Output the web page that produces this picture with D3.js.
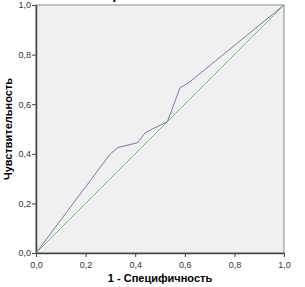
<!DOCTYPE html>
<html>
<head>
<meta charset="utf-8">
<script src="https://cdn.jsdelivr.net/npm/d3@7"></script>
<style>
  body { margin: 0; background: #fff; }
  text { font-family: "Liberation Sans", Arial, sans-serif; }
</style>
</head>
<body>
<div id="chart"></div>
<script>
// ROC curve points (1 - specificity, sensitivity)
var fpr = [0, 0.30, 0.33, 0.41, 0.44, 0.53, 0.56, 0.58, 0.62, 1];
var tpr = [0, 0.40, 0.425, 0.445, 0.485, 0.53, 0.61, 0.665, 0.69, 1];
var refLine = [0, 1];
var ticks = [0, 0.2, 0.4, 0.6, 0.8, 1.0];

var margin = {top: 5, right: 21, bottom: 34, left: 36},
    width = 305 - margin.left - margin.right,
    height = 287 - margin.top - margin.bottom;

var svg = d3.select("#chart")
  .append("svg")
    .attr("width", 305)
    .attr("height", 287)
  .append("g")
    .attr("transform", "translate(" + margin.left + "," + margin.top + ")");

var x = d3.scaleLinear().domain([0, 1]).range([0, width]);
var y = d3.scaleLinear().domain([0, 1]).range([height, 0]);

// title, cut off at the top as in the original export
svg.append("text")
  .attr("x", width / 2 - 16)
  .attr("y", -margin.top - 1.5)
  .style("text-anchor", "middle")
  .style("font-size", "13px")
  .style("font-weight", "bold")
  .text("Кривая ROC");

// plot background + frame
svg.append("rect")
  .attr("width", width)
  .attr("height", height)
  .attr("fill", "#f0f0f0")
  .attr("stroke", "#8a8a8a")
  .attr("stroke-width", 1);

var fmt = function(d) { return d3.format(".1f")(d).replace(".", ","); };

var xAxis = svg.append("g")
  .attr("transform", "translate(0," + height + ")")
  .call(d3.axisBottom(x).tickValues(ticks).tickFormat(fmt).tickSize(4).tickSizeOuter(0));
var yAxis = svg.append("g")
  .call(d3.axisLeft(y).tickValues(ticks).tickFormat(fmt).tickSize(4).tickSizeOuter(0));

[xAxis, yAxis].forEach(function(a) {
  a.select(".domain").attr("stroke", "#444").attr("stroke-width", 1.5);
  a.selectAll(".tick line").attr("stroke", "#444");
  a.selectAll(".tick text").attr("fill", "#333").style("font-size", "9px");
});
xAxis.selectAll(".tick text").attr("dy", "0.9em");
yAxis.selectAll(".tick text").attr("x", -5);

// reference diagonal
svg.append("line")
  .attr("x1", x(refLine[0])).attr("y1", y(refLine[0]))
  .attr("x2", x(refLine[1])).attr("y2", y(refLine[1]))
  .attr("stroke", "#74c284")
  .attr("stroke-width", 1);

// ROC curve
var pts = fpr.map(function(d, i) { return [d, tpr[i]]; });
svg.append("path")
  .datum(pts)
  .attr("fill", "none")
  .attr("stroke", "#7878b8")
  .attr("stroke-width", 1)
  .attr("d", d3.line().x(function(d) { return x(d[0]); }).y(function(d) { return y(d[1]); }));

// axis titles
svg.append("text")
  .attr("x", width / 2)
  .attr("y", height + 29)
  .style("text-anchor", "middle")
  .style("font-size", "11px")
  .style("font-weight", "bold")
  .text("1 - Специфичность");

svg.append("text")
  .attr("transform", "rotate(-90)")
  .attr("x", -height / 2)
  .attr("y", -24)
  .style("text-anchor", "middle")
  .style("font-size", "11px")
  .style("font-weight", "bold")
  .text("Чувствительность");
</script>
</body>
</html>
